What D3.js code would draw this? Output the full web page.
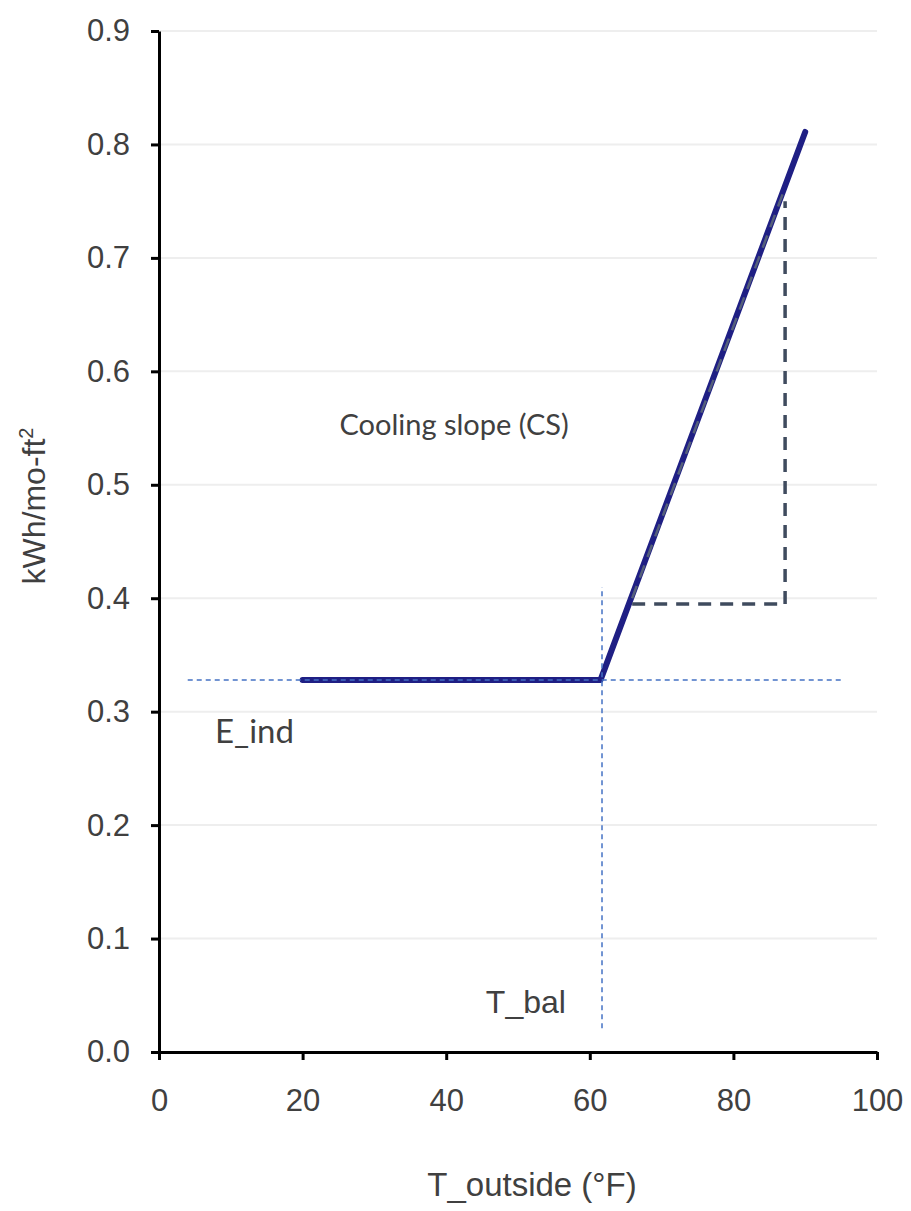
<!DOCTYPE html>
<html>
<head>
<meta charset="utf-8">
<script src="https://cdn.jsdelivr.net/npm/d3@7"></script>
<style>
  body { margin: 0; background: #fff; }
  svg { display: block; }
  .tick text { font-family: "Liberation Sans", Arial, sans-serif; font-size: 31px; fill: #404040; }
</style>
</head>
<body>
<svg id="chart" width="911" height="1211"></svg>
<script>
// axis ticks
var xTicks = [0, 20, 40, 60, 80, 100];
var yTicks = [0, 0.1, 0.2, 0.3, 0.4, 0.5, 0.6, 0.7, 0.8, 0.9];

// change-point model: flat base load, then cooling slope
var modelLine = [[20, 0.328], [61.5, 0.328], [90, 0.811]];
// guide lines
var eIndLine = [[4, 0.328], [95.3, 0.328]];
var tBalLine = [[61.7, 0.021], [61.7, 0.41]];
// slope triangle
var slopeRun = [[65.9, 0.395], [87.2, 0.395]];
var slopeRise = [[87.2, 0.395], [87.2, 0.75]];
var slopeHyp = [[65.9, 0.40], [87.2, 0.762]];

// annotation labels, positioned in data units (baseline)
var labels = [
    {x: 41.1, y: 0.544, text: "Cooling slope (CS)", font: "Lato", size: 29},
    {x: 13.3, y: 0.2725, text: "E_ind", font: "Lato", size: 33},
    {x: 51.1, y: 0.0344, text: "T_bal", font: "Liberation Sans", size: 32}
];

function draw() {
    var svg = d3.select("#chart"),
        margins = {"left": 159, "right": 34, "top": 31, "bottom": 159},
        width = +svg.attr("width"),
        height = +svg.attr("height");

    var x = d3.scaleLinear().domain([0, 100]).range([margins.left, width - margins.right]),
        y = d3.scaleLinear().domain([0, 0.9]).range([height - margins.bottom, margins.top]);

    // gridlines
    svg.append("g")
        .selectAll("line")
        .data(yTicks.slice(1))
        .enter().append("line")
        .attr("x1", x(0)).attr("x2", x(100))
        .attr("y1", d => y(d)).attr("y2", d => y(d))
        .attr("stroke", "#eeeeee").attr("stroke-width", 2);

    var line = d3.line().x(d => x(d[0])).y(d => y(d[1]));

    // main model line
    svg.append("path").datum(modelLine)
        .attr("d", line).attr("fill", "none")
        .attr("stroke", "#1f1f84").attr("stroke-width", 6)
        .attr("stroke-linejoin", "round").attr("stroke-linecap", "round");

    // slope triangle (dashed)
    [slopeRun, slopeRise].forEach(function(seg) {
        svg.append("path").datum(seg)
            .attr("d", line).attr("fill", "none")
            .attr("stroke", "#3f4b5e").attr("stroke-width", 3.5)
            .attr("stroke-dasharray", "13,9");
    });
    svg.append("path").datum(slopeHyp)
        .attr("d", line).attr("fill", "none")
        .attr("stroke", "#55607a").attr("stroke-width", 2.5)
        .attr("stroke-dasharray", "13,9");

    // guide lines (thin blue dashes)
    [eIndLine, tBalLine].forEach(function(seg) {
        svg.append("path").datum(seg)
            .attr("d", line).attr("fill", "none")
            .attr("stroke", "#4472c4").attr("stroke-width", 1.5)
            .attr("stroke-dasharray", "5,4");
    });

    // axes
    var xAxis = svg.append("g")
        .attr("transform", "translate(" + [0, y(0)] + ")")
        .call(d3.axisBottom(x).tickValues(xTicks).tickSize(8).tickSizeOuter(0).tickPadding(29));
    var yAxis = svg.append("g")
        .attr("transform", "translate(" + [x(0), 0] + ")")
        .call(d3.axisLeft(y).tickValues(yTicks).tickFormat(d3.format(".1f")).tickSize(8).tickSizeOuter(0).tickPadding(21));

    [xAxis, yAxis].forEach(function(ax) {
        ax.select(".domain").attr("stroke", "#000").attr("stroke-width", 3);
        ax.selectAll(".tick line").attr("stroke", "#000").attr("stroke-width", 3);
    });

    // annotation labels
    svg.append("g").selectAll("text")
        .data(labels)
        .enter().append("text")
        .attr("x", d => x(d.x))
        .attr("y", d => y(d.y))
        .attr("text-anchor", "middle")
        .style("font-family", d => d.font)
        .style("font-size", d => d.size + "px")
        .style("fill", "#404040")
        .text(d => d.text);

    // axis titles
    svg.append("text")
        .attr("x", 532).attr("y", 1196)
        .attr("text-anchor", "middle")
        .style("font-family", "Liberation Sans").style("font-size", "33px").style("fill", "#404040")
        .text("T_outside (°F)");

    var yt = svg.append("text")
        .attr("transform", "translate(45, 506) rotate(-90)")
        .attr("text-anchor", "middle")
        .style("font-family", "Liberation Sans").style("font-size", "32px").style("fill", "#404040");
    yt.append("tspan").text("kWh/mo-ft");
    yt.append("tspan").attr("dy", "-0.6em").style("font-size", "20px").text("2");
}

draw();
</script>
</body>
</html>
